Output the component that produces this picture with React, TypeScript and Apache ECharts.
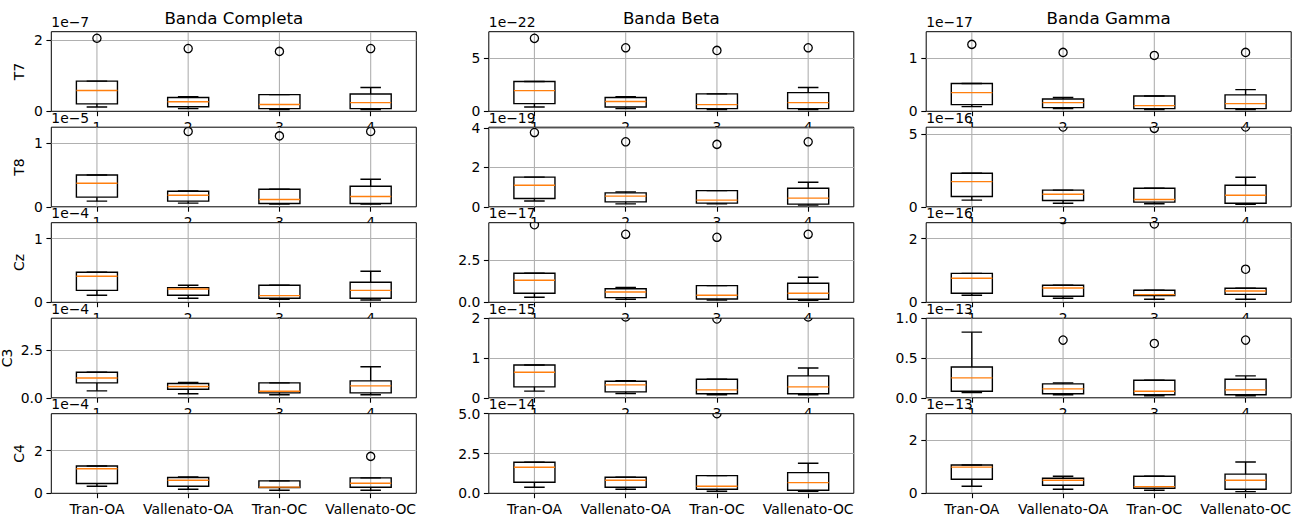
import React, { useEffect, useRef } from "react";
import * as echarts from "echarts";

// ---------- data (values in units of each panel's offset 1e-N) ----------
const categories = ["Tran-OA", "Vallenato-OA", "Tran-OC", "Vallenato-OC"];
const tickLabels = ["1", "2", "3", "4"];
const bands = ["Banda Completa", "Banda Beta", "Banda Gamma"];
const channels = ["T7", "T8", "Cz", "C3", "C4"];

// each box: [lower whisker, Q1, median, Q3, upper whisker]
// outliers: [group index, value]
const completaT7 = [[0.12, 0.21, 0.585, 0.85, 0.85], [0.075, 0.13, 0.27, 0.39, 0.415], [0.05, 0.075, 0.19, 0.47, 0.47], [0.05, 0.075, 0.245, 0.49, 0.67]];
const completaT7Out = [[0, 2.06], [1, 1.77], [2, 1.69], [3, 1.77]];
const completaT8 = [[0.089, 0.152, 0.372, 0.503, 0.503], [0.058, 0.089, 0.183, 0.246, 0.251], [0.042, 0.052, 0.115, 0.277, 0.277], [0.042, 0.052, 0.162, 0.325, 0.435]];
const completaT8Out = [[1, 1.19], [2, 1.12], [3, 1.19]];
const completaCz = [[0.11, 0.188, 0.408, 0.471, 0.471], [0.063, 0.11, 0.209, 0.23, 0.267], [0.047, 0.063, 0.105, 0.267, 0.267], [0.037, 0.063, 0.188, 0.314, 0.487]];
const completaCzOut: number[][] = [];
const completaC3 = [[0.365, 0.78, 1.04, 1.337, 1.337], [0.21, 0.45, 0.59, 0.747, 0.8], [0.156, 0.26, 0.347, 0.78, 0.78], [0.156, 0.26, 0.625, 0.885, 1.63]];
const completaC3Out: number[][] = [];
const completaC4 = [[0.33, 0.457, 1.15, 1.276, 1.276], [0.19, 0.33, 0.614, 0.74, 0.77], [0.142, 0.27, 0.29, 0.583, 0.583], [0.142, 0.283, 0.472, 0.724, 0.724]];
const completaC4Out = [[3, 1.73]];

const betaT7 = [[0.41, 0.73, 1.96, 2.82, 2.82], [0.25, 0.41, 0.92, 1.3, 1.39], [0.16, 0.25, 0.63, 1.65, 1.65], [0.16, 0.25, 0.82, 1.77, 2.25]];
const betaT7Out = [[0, 6.9], [1, 6.01], [2, 5.76], [3, 6.01]];
const betaT8 = [[0.29, 0.42, 1.09, 1.5, 1.5], [0.15, 0.25, 0.54, 0.706, 0.756], [0.15, 0.185, 0.336, 0.82, 0.82], [0.084, 0.134, 0.437, 0.94, 1.24]];
const betaT8Out = [[0, 3.76], [1, 3.29], [2, 3.16], [3, 3.29]];
const betaCz = [[0.3, 0.536, 1.31, 1.726, 1.726], [0.18, 0.28, 0.615, 0.81, 0.89], [0.14, 0.2, 0.417, 0.99, 0.99], [0.12, 0.18, 0.536, 1.13, 1.49]];
const betaCzOut = [[0, 4.62], [1, 4.05], [2, 3.87], [3, 4.05]];
const betaC3 = [[0.167, 0.275, 0.642, 0.825, 0.825], [0.108, 0.15, 0.325, 0.417, 0.43], [0.075, 0.1, 0.2, 0.467, 0.467], [0.075, 0.1, 0.275, 0.55, 0.75]];
const betaC3Out = [[1, 2.03], [2, 1.98], [3, 2.03]];
const betaC4 = [[0.38, 0.69, 1.64, 1.95, 1.95], [0.25, 0.38, 0.82, 1.01, 1.01], [0.126, 0.25, 0.44, 1.11, 1.11], [0.126, 0.19, 0.67, 1.3, 1.89]];
const betaC4Out = [[2, 5.0]];

const gammaT7 = [[0.089, 0.127, 0.354, 0.525, 0.525], [0.05, 0.07, 0.165, 0.234, 0.26], [0.032, 0.05, 0.108, 0.29, 0.29], [0.032, 0.05, 0.146, 0.31, 0.41]];
const gammaT7Out = [[0, 1.266], [1, 1.114], [2, 1.057], [3, 1.114]];
const gammaT8 = [[0.46, 0.71, 1.74, 2.32, 2.32], [0.25, 0.44, 0.87, 1.15, 1.15], [0.21, 0.32, 0.5, 1.28, 1.28], [0.18, 0.25, 0.8, 1.49, 2.04]];
const gammaT8Out = [[1, 5.52], [2, 5.42], [3, 5.52]];
const gammaCz = [[0.22, 0.283, 0.754, 0.91, 0.91], [0.126, 0.188, 0.45, 0.534, 0.534], [0.094, 0.21, 0.24, 0.377, 0.377], [0.094, 0.25, 0.356, 0.44, 0.44]];
const gammaCzOut = [[1, 2.6], [2, 2.46], [3, 1.04]];
const gammaC3 = [[0.067, 0.083, 0.25, 0.3875, 0.825], [0.0375, 0.05, 0.1125, 0.175, 0.1875], [0.025, 0.0375, 0.083, 0.22, 0.22], [0.025, 0.0375, 0.1, 0.233, 0.275]];
const gammaC3Out = [[1, 0.725], [2, 0.683], [3, 0.725]];
const gammaC4 = [[0.264, 0.528, 0.98, 1.057, 1.057], [0.15, 0.3, 0.49, 0.566, 0.64], [0.113, 0.19, 0.25, 0.64, 0.64], [0.063, 0.15, 0.49, 0.717, 1.17]];
const gammaC4Out: number[][] = [];

// y axis: upper limit, tick step, offset exponent (per channel row)
const completaYMax = [2.245, 1.257, 1.25, 4.17, 3.73];
const completaYStep = [2, 1, 1, 2.5, 2];
const completaExp = [-7, -5, -4, -4, -4];
const betaYMax = [7.53, 4.03, 4.74, 2.0, 5.0];
const betaYStep = [5, 2, 2.5, 1, 2.5];
const betaExp = [-22, -19, -17, -15, -14];
const gammaYMax = [1.506, 5.5, 2.5, 1.0, 2.98];
const gammaYStep = [1, 5, 2, 0.5, 2];
const gammaExp = [-17, -16, -16, -13, -13];

const boxesByBand = [
  [completaT7, completaT8, completaCz, completaC3, completaC4],
  [betaT7, betaT8, betaCz, betaC3, betaC4],
  [gammaT7, gammaT8, gammaCz, gammaC3, gammaC4],
];
const outliersByBand = [
  [completaT7Out, completaT8Out, completaCzOut, completaC3Out, completaC4Out],
  [betaT7Out, betaT8Out, betaCzOut, betaC3Out, betaC4Out],
  [gammaT7Out, gammaT8Out, gammaCzOut, gammaC3Out, gammaC4Out],
];
const yMaxByBand = [completaYMax, betaYMax, gammaYMax];
const yStepByBand = [completaYStep, betaYStep, gammaYStep];
const expByBand = [completaExp, betaExp, gammaExp];

// ---------- layout ----------
const COL_LEFT = [51.3, 488.8, 926.2];
const COL_W = 365;
const ROW_TOP = [31.7, 127.2, 222.7, 318.2, 413.7];
const ROW_H = 79.6;
const NAME_X = [19, 19, 19, 7, 19];
const FONT = "DejaVu Sans";
const FS = 13.9;
const GRIDC = "#b0b0b0";
const ORANGE = "#ff7f0e";

function buildOption() {
  const grid: any[] = [];
  const xAxis: any[] = [];
  const yAxis: any[] = [];
  const series: any[] = [];
  const graphic: any[] = [];

  bands.forEach((band, c) => {
    graphic.push({
      type: "text",
      x: COL_LEFT[c] + COL_W / 2,
      y: 17.5,
      z: 200,
      style: { text: band, font: `16.7px ${FONT}`, fill: "#000", align: "center", verticalAlign: "middle" },
    });
    channels.forEach((ch, r) => {
      const idx = c * 5 + r;
      const yMax = yMaxByBand[c][r];
      const step = yStepByBand[c][r];
      const dec = Math.abs(step - Math.round(step)) > 1e-9 ? 1 : 0;
      const ticks: number[] = [];
      for (let k = 0; k * step <= yMax + 1e-9; k++) ticks.push(+(k * step).toFixed(6));
      const maxIsTick = Math.abs(yMax / step - Math.round(yMax / step)) < 1e-6;
      const zBase = 10 * r;
      grid.push({
        left: COL_LEFT[c],
        top: ROW_TOP[r],
        width: COL_W,
        height: ROW_H,
        show: true,
        backgroundColor: "#ffffff",
        borderColor: "#000",
        borderWidth: 1,
        z: zBase + 1,
      });
      xAxis.push({
        type: "category",
        gridIndex: idx,
        data: r === 4 ? categories : tickLabels,
        z: zBase + 2,
        axisLine: { show: false },
        axisTick: { show: true, alignWithLabel: true, length: 4.9, lineStyle: { color: "#000", width: 1.1 } },
        axisLabel: { interval: 0, margin: 8.5, color: "#000", fontSize: FS, fontFamily: FONT },
        splitLine: { show: false },
      });
      yAxis.push({
        type: "value",
        gridIndex: idx,
        min: 0,
        max: yMax,
        interval: step,
        z: zBase + 2,
        axisLine: { show: false },
        axisTick: { show: true, length: 4.9, customValues: ticks, lineStyle: { color: "#000", width: 1.1 } },
        axisLabel: {
          customValues: ticks,
          margin: 8.5,
          color: "#000",
          fontSize: FS,
          fontFamily: FONT,
          showMaxLabel: true,
          formatter: (v: number) => {
            const q = v / step;
            if (Math.abs(q - Math.round(q)) > 1e-6) return "";
            return v.toFixed(dec);
          },
        },
        splitLine: {
          show: true,
          showMinLine: false,
          showMaxLine: !maxIsTick,
          lineStyle: { color: GRIDC, width: 1.1 },
        },
      });
      const boxes = boxesByBand[c][r];
      series.push({
        type: "custom",
        xAxisIndex: idx,
        yAxisIndex: idx,
        z: zBase + 3,
        clip: true,
        silent: true,
        encode: { x: 0, y: [1, 2, 3, 4, 5] },
        data: boxes.map((b, k) => [k, ...b]),
        renderItem: (params: any, api: any) => {
          const k = api.value(0);
          const lo = api.coord([k, api.value(1)]);
          const q1 = api.coord([k, api.value(2)]);
          const md = api.coord([k, api.value(3)]);
          const q3 = api.coord([k, api.value(4)]);
          const hi = api.coord([k, api.value(5)]);
          const bot = api.coord([k, 0]);
          const top = api.coord([k, yMax]);
          const bw = api.size([1, 0])[0];
          const hw = (bw * 0.45) / 2;
          const cap = hw / 2;
          const cx = lo[0];
          const ln = (x1: number, y1: number, x2: number, y2: number, color: string, w: number) => ({
            type: "line",
            shape: { x1, y1, x2, y2 },
            style: { stroke: color, lineWidth: w },
          });
          return {
            type: "group",
            children: [
              ln(cx, bot[1], cx, top[1], GRIDC, 1.1),
              ln(cx, q1[1], cx, lo[1], "#000", 1.4),
              ln(cx, q3[1], cx, hi[1], "#000", 1.4),
              ln(cx - cap, lo[1], cx + cap, lo[1], "#000", 1.4),
              ln(cx - cap, hi[1], cx + cap, hi[1], "#000", 1.4),
              {
                type: "rect",
                shape: { x: cx - hw, y: q3[1], width: 2 * hw, height: q1[1] - q3[1] },
                style: { fill: "none", stroke: "#000", lineWidth: 1.4 },
              },
              ln(cx - hw, md[1], cx + hw, md[1], ORANGE, 1.4),
            ],
          };
        },
      });
      const outs = outliersByBand[c][r];
      if (outs.length) {
        series.push({
          type: "custom",
          xAxisIndex: idx,
          yAxisIndex: idx,
          z: zBase + 4,
          clip: true,
          silent: true,
          encode: { x: 0, y: 1 },
          data: outs,
          renderItem: (params: any, api: any) => {
            const p = api.coord([api.value(0), api.value(1)]);
            return {
              type: "circle",
              shape: { cx: p[0], cy: p[1], r: 4.1 },
              style: { fill: "none", stroke: "#000", lineWidth: 1.3 },
            };
          },
        });
      }
      // offset text
      graphic.push({
        type: "text",
        x: COL_LEFT[c],
        y: ROW_TOP[r] - 9.3,
        z: 200,
        style: {
          text: `1e\u2212${Math.abs(expByBand[c][r])}`,
          font: `${FS}px ${FONT}`,
          fill: "#000",
          align: "left",
          verticalAlign: "middle",
        },
      });
      if (c === 0) {
        graphic.push({
          type: "text",
          x: NAME_X[r],
          y: ROW_TOP[r] + ROW_H / 2,
          rotation: Math.PI / 2,
          z: 200,
          style: { text: ch, font: `${FS}px ${FONT}`, fill: "#000", align: "center", verticalAlign: "middle" },
        });
      }
    });
  });

  return {
    animation: false,
    backgroundColor: "#ffffff",
    tooltip: { show: false },
    grid,
    xAxis,
    yAxis,
    series,
    graphic,
  };
}

export default function App() {
  const ref = useRef<HTMLDivElement>(null);
  useEffect(() => {
    if (!ref.current) return;
    const chart = echarts.init(ref.current, null, { renderer: "svg" });
    chart.setOption(buildOption() as any);
    return () => chart.dispose();
  }, []);
  return (
    <div
      ref={ref}
      style={{ position: "absolute", left: 0, top: 0, width: 1309, height: 523, background: "#fff" }}
    />
  );
}
